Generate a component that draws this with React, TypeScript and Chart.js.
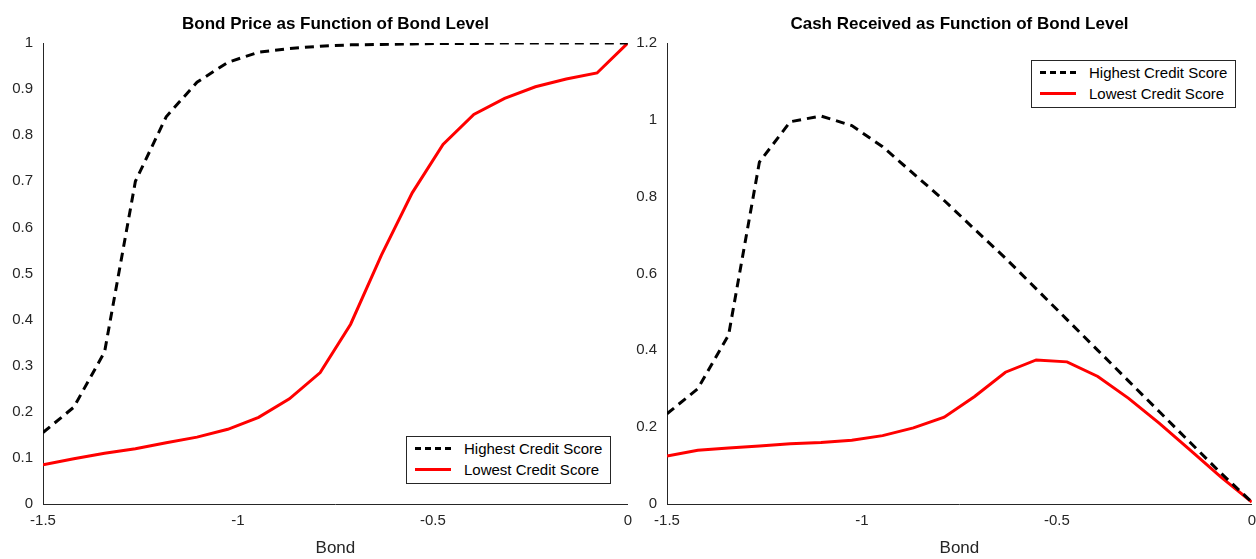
import { useEffect, useRef } from 'react';
import { Chart, registerables } from 'chart.js';

Chart.register(...registerables);

const bond = [-1.5, -1.421, -1.342, -1.263, -1.184, -1.105, -1.026, -0.947, -0.868, -0.789, -0.711, -0.632, -0.553, -0.474, -0.395, -0.316, -0.237, -0.158, -0.079, 0];
const priceHigh = [0.155, 0.21, 0.33, 0.70, 0.84, 0.915, 0.958, 0.98, 0.988, 0.993, 0.996, 0.997, 0.998, 0.999, 0.999, 1, 1, 1, 1, 1];
const priceLow = [0.085, 0.098, 0.11, 0.12, 0.133, 0.145, 0.162, 0.188, 0.228, 0.285, 0.39, 0.54, 0.675, 0.78, 0.845, 0.88, 0.905, 0.922, 0.935, 1.0];
const cashHigh = [0.235, 0.30, 0.44, 0.89, 0.995, 1.01, 0.985, 0.93, 0.86, 0.79, 0.715, 0.64, 0.56, 0.48, 0.40, 0.32, 0.24, 0.16, 0.08, 0.005];
const cashLow = [0.125, 0.14, 0.146, 0.151, 0.157, 0.16, 0.166, 0.178, 0.198, 0.226, 0.28, 0.343, 0.375, 0.37, 0.332, 0.275, 0.21, 0.14, 0.07, 0.005];

const font = 'Liberation Sans, Arial, sans-serif';

function Panel({ left, width, yw, padR, high, low, ymax, ystep, title, legend }: any) {
  const ref = useRef<HTMLCanvasElement>(null);
  useEffect(() => {
    if (!ref.current) return;
    const chart = new Chart(ref.current, {
      type: 'line',
      data: {
        datasets: [
          { data: bond.map((x, i) => ({ x, y: high[i] })), borderColor: '#000', borderDash: [9, 6], borderWidth: 3, pointRadius: 0, tension: 0 },
          { data: bond.map((x, i) => ({ x, y: low[i] })), borderColor: '#ff0000', borderWidth: 3, pointRadius: 0, tension: 0 },
        ],
      },
      options: {
        animation: false,
        responsive: false,
        layout: { padding: { top: 43, right: padR, left: 0, bottom: 0 } },
        plugins: { legend: { display: false }, title: { display: false }, tooltip: { enabled: false } },
        scales: {
          x: {
            type: 'linear', min: -1.5, max: 0,
            grid: { display: false, drawTicks: false },
            border: { color: '#262626', width: 1 },
            ticks: { stepSize: 0.5, color: '#262626', font: { family: font, size: 15 }, padding: 8, callback: (v: any) => String(v) },
            title: { display: true, text: 'Bond', color: '#262626', font: { family: font, size: 17 }, padding: 0 },
            afterFit: (s: any) => { s.height = 55; },
          },
          y: {
            min: 0, max: ymax,
            grid: { display: false, drawTicks: false },
            border: { color: '#262626', width: 1 },
            ticks: { stepSize: ystep, color: '#262626', font: { family: font, size: 15 }, padding: 10, callback: (v: any) => String(Math.round(v * 10) / 10) },
            afterFit: (s: any) => { s.width = yw; },
          },
        },
      },
    });
    return () => chart.destroy();
  }, []);
  return (
    <div style={{ position: 'absolute', left, top: 0, width, height: 559 }}>
      <canvas ref={ref} width={width} height={559} style={{ width, height: 559 }} />
      <div style={{ position: 'absolute', left: yw, width: width - yw - 12, top: 14, textAlign: 'center', fontFamily: font, fontWeight: 'bold', fontSize: 17, color: '#000' }}>{title}</div>
      <div style={{ position: 'absolute', left: legend.x - left, top: legend.y, width: 205, height: 48, border: '1px solid #262626', background: '#fff', fontFamily: font, fontSize: 15, color: '#000', boxSizing: 'border-box' }}>
        {[['Highest Credit Score', 'dashed #000'], ['Lowest Credit Score', 'solid #ff0000']].map(([t, s], i) => (
          <div key={t} style={{ position: 'absolute', left: 8, top: 3 + i * 21, display: 'flex', alignItems: 'center' }}>
            <div style={{ width: 36, borderTop: `3px ${s}`, marginRight: 13 }} />
            <span>{t}</span>
          </div>
        ))}
      </div>
    </div>
  );
}

export default function App() {
  return (
    <div style={{ position: 'absolute', left: 0, top: 0, width: 1256, height: 559, background: '#fff', overflow: 'hidden' }}>
      <Panel left={0} width={640} yw={43} padR={0} high={priceHigh} low={priceLow} ymax={1} ystep={0.1}
        title="Bond Price as Function of Bond Level" legend={{ x: 406, y: 436 }} />
      <Panel left={632} width={632} yw={35} padR={0} high={cashHigh} low={cashLow} ymax={1.2} ystep={0.2}
        title="Cash Received as Function of Bond Level" legend={{ x: 1031, y: 60 }} />
    </div>
  );
}
